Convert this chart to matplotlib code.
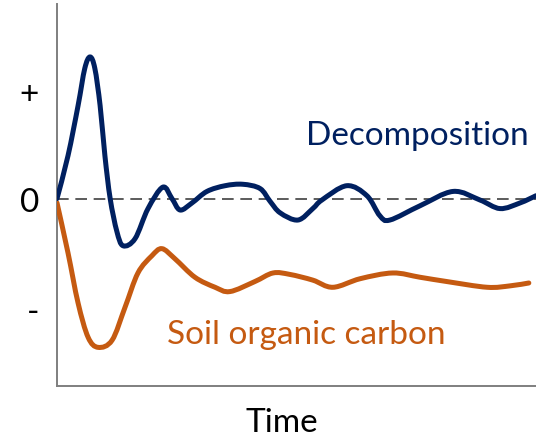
import numpy as np
import matplotlib
matplotlib.use("Agg")
from matplotlib import pyplot as plt
from matplotlib.path import Path
from matplotlib.patches import PathPatch

plt.rcParams["font.family"] = ["Lato", "DejaVu Sans"]

# decomposition curve (time, relative change)
decomp_t = [0, 2.3, 4.4, 5.8, 6.9, 7.9, 9.0, 10.0, 11.1, 12.5, 13.8, 16.3, 19.0,
            22.1, 24.0, 25.7, 28.2, 31.3, 35.1, 38.8, 42.4, 44.5, 46.6, 50.3,
            53.4, 55.3, 60.5, 64.7, 67.4, 69.5, 75.8, 82.7, 88.3, 92.5, 96.7, 100]
decomp_v = [0.0, 0.30, 0.65, 0.91, 0.99, 0.91, 0.65, 0.30, 0.0, -0.23, -0.33,
            -0.28, -0.07, 0.08, 0.0, -0.08, -0.03, 0.05, 0.09, 0.10, 0.07, -0.02,
            -0.10, -0.15, -0.07, -0.01, 0.09, 0.02, -0.12, -0.15, -0.05, 0.05,
            -0.01, -0.07, -0.03, 0.02]

# soil organic carbon curve
soc_t = [0, 2.3, 4.4, 6.5, 8.6, 11.5, 14.2, 16.9, 19.8, 21.9, 24.6, 28.8, 33.0,
         36.1, 41.3, 45.1, 48.6, 53.4, 57.6, 63.3, 70.1, 75.8, 81.4, 89.8, 94.6, 98.5]
soc_v = [-0.03, -0.38, -0.73, -0.97, -1.04, -0.99, -0.76, -0.52, -0.40, -0.35,
         -0.42, -0.55, -0.62, -0.65, -0.58, -0.52, -0.53, -0.57, -0.62, -0.56,
         -0.52, -0.55, -0.58, -0.62, -0.61, -0.59]

ytick_pos = [0.75, 0.0, -0.77]
ytick_lab = ["+", "0", "-"]

blue = "#002060"
orange = "#C55A11"


def smooth_path(xs, ys):
    # catmull-rom through the points, drawn as bezier segments
    p = np.column_stack([xs, ys]).astype(float)
    p = np.vstack([p[0], p, p[-1]])
    verts = [p[1]]
    codes = [Path.MOVETO]
    for i in range(1, len(p) - 2):
        c1 = p[i] + (p[i + 1] - p[i - 1]) / 6.0
        c2 = p[i + 1] - (p[i + 2] - p[i]) / 6.0
        verts += [c1, c2, p[i + 1]]
        codes += [Path.CURVE4] * 3
    return Path(verts, codes)


fig = plt.figure(figsize=(5.36, 4.39), dpi=100)
ax = fig.add_axes([57 / 536, 52 / 439, 479 / 536, 382 / 439])
ax.set_xlim(0, 100)
ax.set_ylim(-1.31, 1.36)

ax.axhline(0, color="#404040", lw=1.2, dashes=(7, 4), zorder=1)

for xs, ys, col in [(soc_t, soc_v, orange), (decomp_t, decomp_v, blue)]:
    ax.add_patch(PathPatch(smooth_path(xs, ys), fill=False, edgecolor=col,
                           lw=3.6, capstyle="round", joinstyle="round", zorder=3))

ax.text(52.0, 0.38, "Decomposition", color=blue, fontsize=24, va="baseline", ha="left")
ax.text(23.0, -1.01, "Soil organic carbon", color=orange, fontsize=24, va="baseline", ha="left")

ax.set_xticks([])
ax.set_yticks(ytick_pos)
ax.set_yticklabels(ytick_lab, fontsize=24)
ax.tick_params(axis="y", length=0, pad=13)
for s in ["top", "right"]:
    ax.spines[s].set_visible(False)
for s in ["left", "bottom"]:
    ax.spines[s].set_color("#7f7f7f")
    ax.spines[s].set_linewidth(1.4)

fig.text(282 / 536, 1 - 423 / 439, "Time", fontsize=24, ha="center", va="center")

fig.savefig("out.png", dpi=100)
